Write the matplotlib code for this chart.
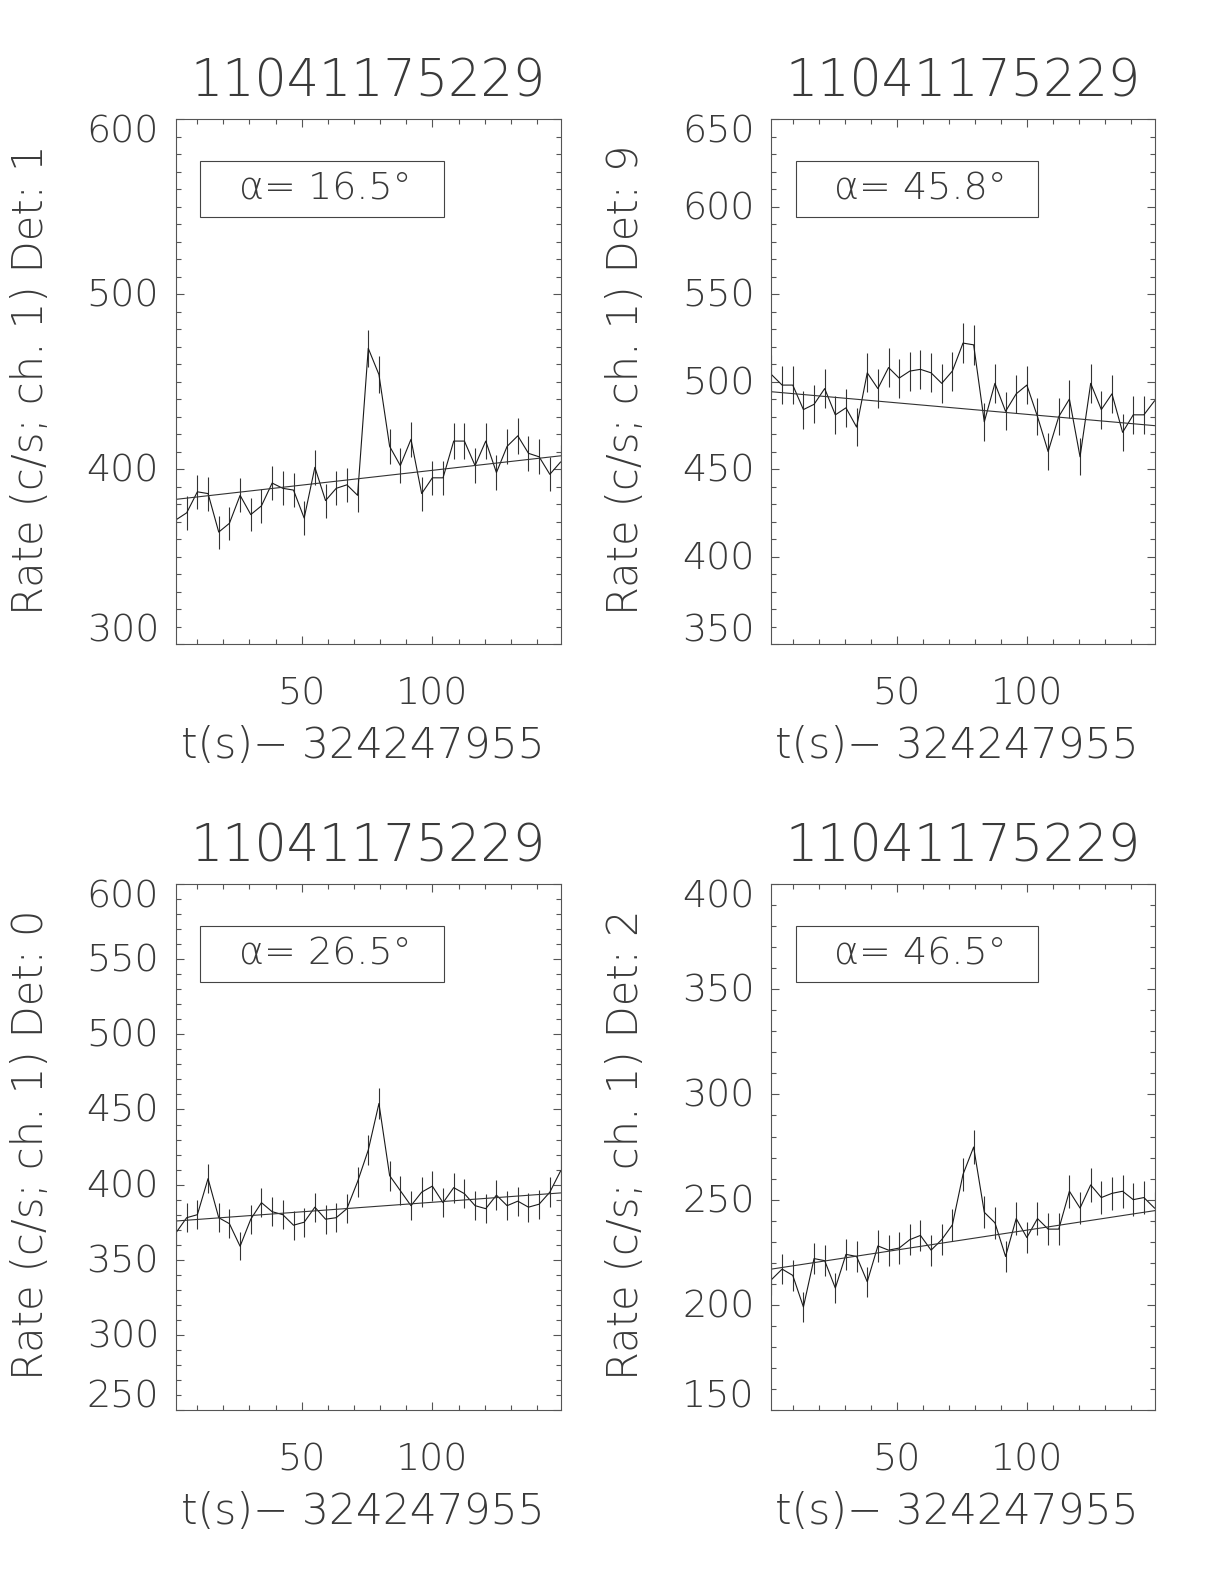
import numpy as np
import matplotlib
matplotlib.use('Agg')
import matplotlib.pyplot as plt
from matplotlib.patches import Rectangle
from matplotlib.ticker import MultipleLocator
import matplotlib.transforms as mtrans

plt.rcParams['font.family'] = ['DejaVu Sans']
plt.rcParams['font.weight'] = 'ultralight'
FW = 'ultralight'

# ---------------- data ----------------
title_text = "11041175229"
xlabel_text = "t(s)\u2212 324247955"
t_start = 1.9          # s, first bin
t_step = 4.087         # s, bin width
n_bins = 37
x_range = [1.9, 149.2]
x_ticks = [50, 100]

det_names = ["1", "9", "0", "2"]
alpha_deg = ["16.5", "45.8", "26.5", "46.5"]

rate_det1 = [371, 375, 387, 386, 364, 369, 385, 374, 379, 392, 389, 388, 372, 401, 382, 389, 391, 385,
             469, 454, 413, 402, 417, 386, 395, 395, 416, 416, 402, 416, 398, 413, 419, 409, 407, 397, 404]
err_det1 = [9.5, 9.6, 9.7, 9.7, 9.4, 9.5, 9.7, 9.6, 9.6, 9.8, 9.7, 9.7, 9.5, 9.9, 9.7, 9.7, 9.8, 9.7,
            10.7, 10.5, 10.0, 9.9, 10.1, 9.7, 9.8, 9.8, 10.1, 10.1, 9.9, 10.1, 9.9, 10.0, 10.1, 10.0, 10.0, 9.8, 9.9]
fit_det1 = [382.7, 407.6]

rate_det9 = [504, 498, 498, 484, 487, 496, 481, 485, 474, 505, 496, 508, 502, 506, 507, 505, 499, 506,
             522, 521, 477, 499, 483, 493, 498, 480, 460, 480, 490, 457, 499, 484, 493, 471, 481, 481, 489]
err_det9 = [11.1, 11.0, 11.0, 10.9, 10.9, 11.0, 10.8, 10.9, 10.8, 11.1, 11.0, 11.1, 11.1, 11.1, 11.1, 11.1, 11.0, 11.1,
            11.3, 11.3, 10.8, 11.0, 10.9, 11.0, 11.0, 10.8, 10.6, 10.8, 10.9, 10.6, 11.0, 10.9, 11.0, 10.7, 10.8, 10.8, 10.9]
fit_det9 = [494.2, 474.8]

rate_det0 = [368, 378, 380, 404, 378, 374, 359, 377, 388, 382, 380, 373, 375, 385, 377, 378, 384, 402,
             423, 454, 406, 396, 386, 395, 399, 388, 398, 394, 386, 384, 393, 386, 389, 385, 387, 395, 409]
err_det0 = [9.5, 9.6, 9.6, 9.9, 9.6, 9.6, 9.4, 9.6, 9.7, 9.7, 9.6, 9.6, 9.6, 9.7, 9.6, 9.6, 9.7, 9.9,
            10.2, 10.5, 10.0, 9.8, 9.7, 9.8, 9.9, 9.7, 9.9, 9.8, 9.7, 9.7, 9.8, 9.7, 9.7, 9.7, 9.7, 9.8, 10.0]
fit_det0 = [375.8, 394.5]

rate_det2 = [212, 217, 214, 199, 222, 221, 208, 224, 223, 211, 228, 226, 227, 231, 233, 226, 231, 238,
             262, 275, 244, 239, 223, 241, 232, 241, 236, 236, 254, 246, 257, 251, 253, 254, 250, 251, 246]
err_det2 = [7.2, 7.3, 7.2, 7.0, 7.4, 7.3, 7.1, 7.4, 7.4, 7.2, 7.5, 7.4, 7.4, 7.5, 7.5, 7.4, 7.5, 7.6,
            8.0, 8.2, 7.7, 7.6, 7.4, 7.7, 7.5, 7.7, 7.6, 7.6, 7.9, 7.7, 7.9, 7.8, 7.9, 7.9, 7.8, 7.8, 7.7]
fit_det2 = [217.0, 244.8]

y_ranges = [[300, 600], [350, 650], [250, 600], [150, 400]]
y_ticks_1 = [300, 400, 500, 600]
y_ticks_9 = [350, 400, 450, 500, 550, 600, 650]
y_ticks_0 = [250, 300, 350, 400, 450, 500, 550, 600]
y_ticks_2 = [150, 200, 250, 300, 350, 400]

# ---------------- figure ----------------
fig = plt.figure(figsize=(12.24, 15.84), dpi=100)

rates = [rate_det1, rate_det9, rate_det0, rate_det2]
errs = [err_det1, err_det9, err_det0, err_det2]
fits = [fit_det1, fit_det9, fit_det0, fit_det2]
yticks_all = [y_ticks_1, y_ticks_9, y_ticks_0, y_ticks_2]
rects = [(0.1438, 0.5934, 0.3145, 0.3314),
         (0.6303, 0.5934, 0.3133, 0.3314),
         (0.1438, 0.1098, 0.3145, 0.3321),
         (0.6303, 0.1098, 0.3133, 0.3321)]

t = t_start + t_step * np.arange(n_bins)

AX_C = '#555555'
LINE_C = '#1a1a1a'
TXT_C = '#3a3a3a'
TICK_FS = 27.4
TITLE_FS = 36.5

for i in range(4):
    ax = fig.add_axes(rects[i])
    ax.errorbar(t, rates[i], yerr=errs[i], fmt='none', ecolor='#333333',
                elinewidth=0.8, capsize=0)
    ax.plot(t, rates[i], color=LINE_C, lw=0.8)
    ax.plot(x_range, fits[i], color='#333333', lw=0.8)
    ax.set_xlim(x_range)
    ax.set_ylim(y_ranges[i])
    yt = yticks_all[i]
    ax.xaxis.set_major_locator(MultipleLocator(50))
    ax.xaxis.set_minor_locator(MultipleLocator(10))
    ax.yaxis.set_major_locator(MultipleLocator(yt[1] - yt[0]))
    ax.yaxis.set_minor_locator(MultipleLocator(10))
    ax.tick_params(which='both', direction='in', top=True, right=True,
                   labelleft=False, labelbottom=False, color=AX_C, width=0.8)
    ax.tick_params(which='major', length=6)
    ax.tick_params(which='minor', length=3.5)
    for s in ax.spines.values():
        s.set_color(AX_C)
        s.set_linewidth(0.8)

    # x tick labels
    xtr = mtrans.blended_transform_factory(ax.transData, ax.transAxes)
    for v in x_ticks:
        ax.text(v, 0, str(v), transform=mtrans.offset_copy(xtr, fig=fig, x=0, y=-50, units='dots'),
                ha='center', va='center', fontsize=TICK_FS, fontweight=FW, color=TXT_C)
    # y tick labels (end labels pulled inward as in the original)
    ytr = mtrans.blended_transform_factory(ax.transAxes, ax.transData)
    for k, v in enumerate(yt):
        if k == 0:
            dy = 13
        elif k == len(yt) - 1:
            dy = -13
        else:
            dy = -2
        ax.text(0, v, str(v), transform=mtrans.offset_copy(ytr, fig=fig, x=-17, y=dy, units='dots'),
                ha='right', va='center', fontsize=TICK_FS, fontweight=FW, color=TXT_C)
    # title
    ax.text(0.5, 1, title_text, transform=mtrans.offset_copy(ax.transAxes, fig=fig, x=0, y=37, units='dots'),
            ha='center', va='center', fontsize=TITLE_FS, fontweight=FW, color=TXT_C)
    # x label
    ax.text(0.5, 0, xlabel_text, transform=mtrans.offset_copy(ax.transAxes, fig=fig, x=-6, y=-101, units='dots'),
            ha='center', va='center', fontsize=30.5, fontweight=FW, color=TXT_C)
    # y label
    ax.text(0, 0.5, "Rate (c/s; ch. 1) Det: " + det_names[i],
            transform=mtrans.offset_copy(ax.transAxes, fig=fig, x=-146, y=2, units='dots'),
            ha='center', va='center', rotation=90, fontsize=30, fontweight=FW, color=TXT_C)
    # alpha box
    ax.add_patch(Rectangle((0.063, 0.813), 0.633, 0.108, transform=ax.transAxes,
                           fill=False, edgecolor='#444444', lw=0.8))
    ax.text(0.164, 0.867, "\u03b1= " + alpha_deg[i] + "\u00b0", transform=ax.transAxes,
            ha='left', va='center', fontsize=TICK_FS, fontweight=FW, color=TXT_C)

fig.savefig('out.png', dpi=100)
